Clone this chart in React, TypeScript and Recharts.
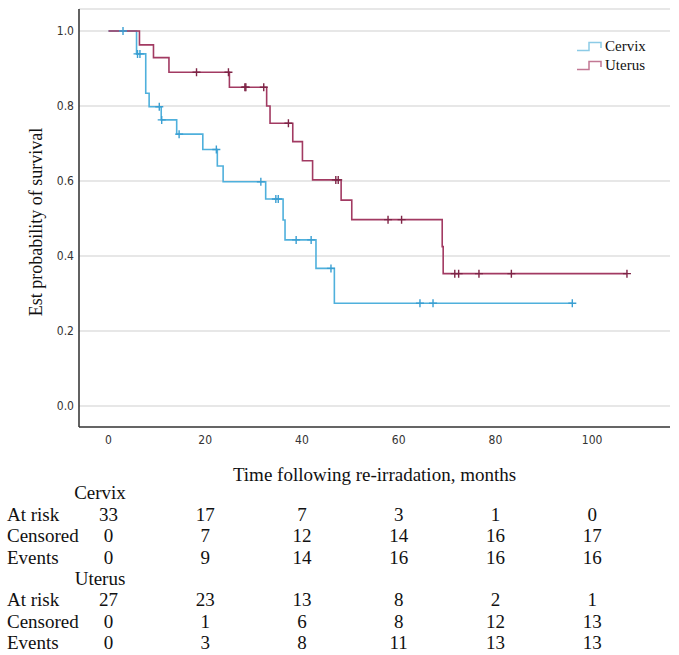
import { ComposedChart, Line, Scatter, XAxis, YAxis, CartesianGrid } from "recharts";

// Kaplan-Meier steps: time (months) where the curve changes, and survival from that time on
const cervixTime = [0, 5.8, 7.7, 8.4, 10.9, 14.1, 19.5, 22.5, 23.7, 32.5, 36.1, 36.5, 42.9, 46.7, 95.9];
const cervixSurv = [1.0, 0.939, 0.834, 0.798, 0.763, 0.725, 0.684, 0.64, 0.598, 0.552, 0.496, 0.443, 0.367, 0.274, 0.274];

const uterusTime = [0, 6.4, 9.3, 12.5, 25.0, 32.7, 33.4, 38.1, 40.1, 42.2, 48.1, 50.3, 69.0, 69.2, 107.2];
const uterusSurv = [1.0, 0.963, 0.929, 0.89, 0.85, 0.8, 0.754, 0.705, 0.654, 0.603, 0.549, 0.497, 0.425, 0.353, 0.353];

// censored observations
const cervixCensTime = [3.0, 6.0, 6.5, 10.5, 11.0, 14.6, 22.3, 31.5, 34.6, 35.1, 38.8, 41.9, 46.0, 64.4, 67.1, 95.9];
const cervixCensSurv = [1.0, 0.939, 0.939, 0.798, 0.763, 0.725, 0.684, 0.598, 0.552, 0.552, 0.443, 0.443, 0.367, 0.274, 0.274, 0.274];

const uterusCensTime = [18.2, 24.8, 28.2, 28.4, 32.1, 37.2, 47.0, 47.5, 57.8, 60.6, 71.6, 72.4, 76.6, 83.3, 107.2];
const uterusCensSurv = [0.89, 0.89, 0.85, 0.85, 0.85, 0.754, 0.603, 0.603, 0.497, 0.497, 0.353, 0.353, 0.353, 0.353, 0.353];

const xTicks = [0, 20, 40, 60, 80, 100];
const yTicks = [0, 0.2, 0.4, 0.6, 0.8, 1.0];

// numbers-at-risk table, one column per x tick
const cervixAtRisk = [33, 17, 7, 3, 1, 0];
const cervixCensored = [0, 7, 12, 14, 16, 17];
const cervixEvents = [0, 9, 14, 16, 16, 16];
const uterusAtRisk = [27, 23, 13, 8, 2, 1];
const uterusCensored = [0, 1, 6, 8, 12, 13];
const uterusEvents = [0, 3, 8, 11, 13, 13];

const CERVIX = "#4fb0dc";
const CERVIX_MARK = "#3a9fd2";
const UTERUS = "#a23a62";
const UTERUS_MARK = "#7e2446";

const X_MIN = -6.1;
const X_MAX = 116.1;
const Y_MIN = -0.056;
const Y_MAX = 1.0587;
const PLOT_LEFT = 79;
const PLOT_RIGHT = 670;

const serif = "'Liberation Serif', 'Times New Roman', serif";
const narrow = "'Liberation Sans Narrow', 'DejaVu Sans Condensed', 'Liberation Sans', sans-serif";

const zip = (t: number[], s: number[]) => t.map((v, i) => ({ t: v, s: s[i] }));

const cervixData = zip(cervixTime, cervixSurv);
const uterusData = zip(uterusTime, uterusSurv);
const cervixCens = zip(cervixCensTime, cervixCensSurv);
const uterusCens = zip(uterusCensTime, uterusCensSurv);

const colX = (t: number) => PLOT_LEFT + ((t - X_MIN) / (X_MAX - X_MIN)) * (PLOT_RIGHT - PLOT_LEFT);

function censorMark(color: string) {
  return (props: any) => {
    const { cx, cy } = props;
    return (
      <path
        d={`M${cx - 4},${cy}H${cx + 4}M${cx},${cy - 4}V${cy + 4}`}
        stroke={color}
        strokeWidth={1.4}
        fill="none"
      />
    );
  };
}

function StepIcon({ color }: { color: string }) {
  return (
    <svg width={27} height={12} style={{ display: "block" }}>
      <path d="M1,9.5H13V1.5H25V7" stroke={color} strokeWidth={1.5} fill="none" />
    </svg>
  );
}

const tableRows: { label: string; values?: number[] }[] = [
  { label: "Cervix" },
  { label: "At risk", values: cervixAtRisk },
  { label: "Censored", values: cervixCensored },
  { label: "Events", values: cervixEvents },
  { label: "Uterus" },
  { label: "At risk", values: uterusAtRisk },
  { label: "Censored", values: uterusCensored },
  { label: "Events", values: uterusEvents },
];

export default function App() {
  return (
    <div
      style={{
        position: "absolute",
        left: 0,
        top: 0,
        width: 679,
        height: 655,
        background: "#fff",
        overflow: "hidden",
      }}
    >
      <ComposedChart width={679} height={460} margin={{ top: 9, right: 9, left: 0, bottom: 0 }}>
        <CartesianGrid horizontal vertical={false} stroke="#cfcfcf" strokeWidth={1.2} />
        <XAxis
          dataKey="t"
          type="number"
          domain={[X_MIN, X_MAX]}
          ticks={xTicks}
          allowDataOverflow
          height={33}
          tickLine={false}
          axisLine={{ stroke: "#3a3a3a", strokeWidth: 1.6 }}
          tick={{ fill: "#333", fontSize: 12, fontFamily: narrow }}
        />
        <YAxis
          type="number"
          domain={[Y_MIN, Y_MAX]}
          ticks={yTicks}
          allowDataOverflow
          width={79}
          tickSize={3}
          tickLine={false}
          axisLine={{ stroke: "#3a3a3a", strokeWidth: 1.6 }}
          tickFormatter={(v: number) => v.toFixed(1)}
          tick={{ fill: "#333", fontSize: 12, fontFamily: narrow }}
        />
        <Line
          data={cervixData}
          dataKey="s"
          type="stepAfter"
          stroke={CERVIX}
          strokeWidth={1.6}
          dot={false}
          activeDot={false}
          isAnimationActive={false}
        />
        <Line
          data={uterusData}
          dataKey="s"
          type="stepAfter"
          stroke={UTERUS}
          strokeWidth={1.6}
          dot={false}
          activeDot={false}
          isAnimationActive={false}
        />
        <Scatter data={cervixCens} dataKey="s" shape={censorMark(CERVIX_MARK)} isAnimationActive={false} />
        <Scatter data={uterusCens} dataKey="s" shape={censorMark(UTERUS_MARK)} isAnimationActive={false} />
      </ComposedChart>

      {/* legend */}
      <div style={{ position: "absolute", left: 576, top: 37, fontFamily: serif, fontSize: 15, color: "#111" }}>
        {[
          { name: "Cervix", color: "#8ccbe6" },
          { name: "Uterus", color: "#c27894" },
        ].map((item) => (
          <div key={item.name} style={{ display: "flex", alignItems: "center", height: 19 }}>
            <StepIcon color={item.color} />
            <span style={{ marginLeft: 2 }}>{item.name}</span>
          </div>
        ))}
      </div>

      {/* y axis title */}
      <div
        style={{
          position: "absolute",
          left: 36,
          top: 222,
          transform: "translate(-50%, -50%) rotate(-90deg)",
          whiteSpace: "nowrap",
          fontFamily: serif,
          fontSize: 18,
          color: "#111",
        }}
      >
        Est probability of survival
      </div>

      {/* x axis title */}
      <div
        style={{
          position: "absolute",
          left: (PLOT_LEFT + PLOT_RIGHT) / 2,
          top: 475,
          transform: "translate(-50%, -50%)",
          whiteSpace: "nowrap",
          fontFamily: serif,
          fontSize: 19,
          color: "#111",
        }}
      >
        Time following re-irradation, months
      </div>

      {/* numbers at risk */}
      {tableRows.map((row, r) => {
        const y = 493.3 + r * 21.43;
        if (!row.values) {
          return (
            <div
              key={r}
              style={{
                position: "absolute",
                left: 100,
                top: y,
                transform: "translate(-50%, -50%)",
                fontFamily: serif,
                fontSize: 19,
                color: "#111",
                whiteSpace: "nowrap",
              }}
            >
              {row.label}
            </div>
          );
        }
        return (
          <div key={r}>
            <div
              style={{
                position: "absolute",
                left: 7,
                top: y,
                transform: "translateY(-50%)",
                fontFamily: serif,
                fontSize: 19,
                color: "#111",
                whiteSpace: "nowrap",
              }}
            >
              {row.label}
            </div>
            {row.values.map((v, i) => (
              <div
                key={i}
                style={{
                  position: "absolute",
                  left: colX(xTicks[i]),
                  top: y,
                  transform: "translate(-50%, -50%)",
                  fontFamily: serif,
                  fontSize: 19,
                  color: "#111",
                }}
              >
                {v}
              </div>
            ))}
          </div>
        );
      })}
    </div>
  );
}
